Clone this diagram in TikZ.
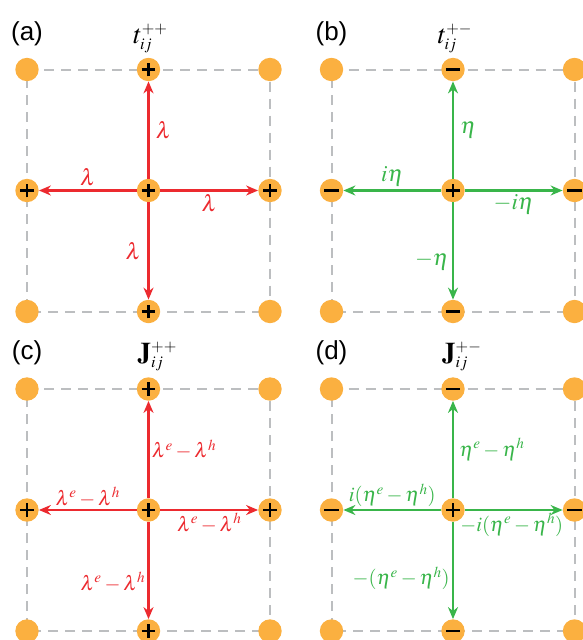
\documentclass[tikz,border=0pt]{standalone}
\usepackage{fontspec}
\usepackage{mathptmx}
\usepackage{tikz}
\usetikzlibrary{arrows.meta,backgrounds}
\newfontfamily\tagfont{Liberation Sans}
\definecolor{siteorange}{HTML}{FBB040}
\definecolor{hopred}{HTML}{EC2A2F}
\definecolor{hopgreen}{HTML}{39B54A}
\definecolor{framegray}{HTML}{BCBEC0}
\newdimen\unitsize
\setlength{\unitsize}{1pt}
\newcommand{\hopsym}[3]{#1_{\scriptscriptstyle #2}^{\scriptscriptstyle #3}}

\begin{document}
\begin{tikzpicture}[x=\unitsize,y=-\unitsize]
\tikzset{site/.style={circle, fill=siteorange, minimum size=23.4pt, inner sep=0pt}}%
\tikzset{plus/.style={site, path picture={
  \draw[line width=2.8pt, black] ([xshift=-6.8pt]path picture bounding box.center) -- ([xshift=6.8pt]path picture bounding box.center);
  \draw[line width=2.8pt, black] ([yshift=-6.8pt]path picture bounding box.center) -- ([yshift=6.8pt]path picture bounding box.center);}}}%
\tikzset{minus/.style={site, path picture={
  \draw[line width=2.8pt, black] ([xshift=-7.2pt]path picture bounding box.center) -- ([xshift=7.2pt]path picture bounding box.center);}}}%
\tikzset{frame/.style={framegray, line width=2pt, dash pattern=on 10pt off 7pt}}%
\tikzset{hop/.style={line width=2.6pt, -{Stealth[length=12pt,width=10pt]}}}%
\tikzset{amp/.style={inner sep=3pt, font=\fontsize{23}{25}\selectfont}}%
\tikzset{ampsmall/.style={inner sep=2pt, font=\fontsize{20.5}{22}\selectfont}}%
\tikzset{title/.style={anchor=base west, inner sep=0pt, font=\fontsize{27}{29}\selectfont}}%
\tikzset{tag/.style={font=\tagfont\fontsize{26}{28}\selectfont}}%
\useasboundingbox (0,0) rectangle (582,640);

% (a) t++
\begin{scope}[shift={(148.5,190.5)}]
\node[plus] (aC) at (0,0) {};
\node[plus] (aN) at (0,-121) {};
\node[plus] (aS) at (0,121) {};
\node[plus] (aW) at (-121.5,0) {};
\node[plus] (aE) at (121.5,0) {};
\node[site] (aNW) at (-121.5,-121) {};
\node[site] (aNE) at (121.5,-121) {};
\node[site] (aSW) at (-121.5,121) {};
\node[site] (aSE) at (121.5,121) {};
\begin{scope}[on background layer]
\draw[frame] (aNW.center) -- (aNE.center) -- (aSE.center) -- (aSW.center) -- cycle;
\end{scope}
\draw[hop, hopred] (aC) -- (aN) node[amp, midway, right, xshift=3pt] {$\lambda$};
\draw[hop, hopred] (aC) -- (aW) node[amp, midway, above] {$\lambda$};
\draw[hop, hopred] (aC) -- (aE) node[amp, midway, below] {$\lambda$};
\draw[hop, hopred] (aC) -- (aS) node[amp, midway, left, xshift=-3pt] {$\lambda$};
\node[title] (aT) at (-15.5,-147.5) {$\hopsym{t}{ij}{++}$};
\node[tag] (aL) at (-121.5,-157) {(a)};
\end{scope}

% (b) t+-
\begin{scope}[shift={(453,190.5)}]
\node[plus] (bC) at (0,0) {};
\node[minus] (bN) at (0,-121) {};
\node[minus] (bS) at (0,121) {};
\node[minus] (bW) at (-121.5,0) {};
\node[minus] (bE) at (121.5,0) {};
\node[site] (bNW) at (-121.5,-121) {};
\node[site] (bNE) at (121.5,-121) {};
\node[site] (bSW) at (-121.5,121) {};
\node[site] (bSE) at (121.5,121) {};
\begin{scope}[on background layer]
\draw[frame] (bNW.center) -- (bNE.center) -- (bSE.center) -- (bSW.center) -- cycle;
\end{scope}
\draw[hop, hopgreen] (bC) -- (bN) node[amp, midway, right, xshift=3pt] {$\eta$};
\draw[hop, hopgreen] (bC) -- (bW) node[amp, midway, above] {$i\eta$};
\draw[hop, hopgreen] (bC) -- (bE) node[amp, midway, below] {$-i\eta$};
\draw[hop, hopgreen] (bC) -- (bS) node[amp, pos=0.6, left] {$-\eta$};
\node[title] (bT) at (-15.5,-147.5) {$\hopsym{t}{ij}{+-}$};
\node[tag] (bL) at (-121.5,-157) {(b)};
\end{scope}

% (c) J++
\begin{scope}[shift={(148.5,510)}]
\node[plus] (cC) at (0,0) {};
\node[plus] (cN) at (0,-121) {};
\node[plus] (cS) at (0,121) {};
\node[plus] (cW) at (-121.5,0) {};
\node[plus] (cE) at (121.5,0) {};
\node[site] (cNW) at (-121.5,-121) {};
\node[site] (cNE) at (121.5,-121) {};
\node[site] (cSW) at (-121.5,121) {};
\node[site] (cSE) at (121.5,121) {};
\begin{scope}[on background layer]
\draw[frame] (cNW.center) -- (cNE.center) -- (cSE.center) -- (cSW.center) -- cycle;
\end{scope}
\draw[hop, hopred] (cC) -- (cN) node[ampsmall, midway, right] {$\lambda^e-\lambda^h$};
\draw[hop, hopred] (cC) -- (cW) node[ampsmall, midway, above] {$\lambda^e-\lambda^h$};
\draw[hop, hopred] (cC) -- (cE) node[ampsmall, midway, below] {$\lambda^e-\lambda^h$};
\draw[hop, hopred] (cC) -- (cS) node[ampsmall, pos=0.62, left] {$\lambda^e-\lambda^h$};
\node[title] (cT) at (-11,-149) {$\hopsym{\mathbf{J}}{ij}{++}$};
\node[tag] (cL) at (-121.5,-157) {(c)};
\end{scope}

% (d) J+-
\begin{scope}[shift={(453,510)}]
\node[plus] (dC) at (0,0) {};
\node[minus] (dN) at (0,-121) {};
\node[minus] (dS) at (0,121) {};
\node[minus] (dW) at (-121.5,0) {};
\node[minus] (dE) at (121.5,0) {};
\node[site] (dNW) at (-121.5,-121) {};
\node[site] (dNE) at (121.5,-121) {};
\node[site] (dSW) at (-121.5,121) {};
\node[site] (dSE) at (121.5,121) {};
\begin{scope}[on background layer]
\draw[frame] (dNW.center) -- (dNE.center) -- (dSE.center) -- (dSW.center) -- cycle;
\end{scope}
\draw[hop, hopgreen] (dC) -- (dN) node[ampsmall, midway, right, xshift=3pt] {$\eta^e-\eta^h$};
\draw[hop, hopgreen] (dC) -- (dW) node[ampsmall, midway, above] {$i(\eta^e-\eta^h)$};
\draw[hop, hopgreen] (dC) -- (dE) node[ampsmall, midway, below, xshift=-2pt] {$-i(\eta^e-\eta^h)$};
\draw[hop, hopgreen] (dC) -- (dS) node[ampsmall, pos=0.58, left] {$-(\eta^e-\eta^h)$};
\node[title] (dT) at (-11,-149) {$\hopsym{\mathbf{J}}{ij}{+-}$};
\node[tag] (dL) at (-121.5,-157) {(d)};
\end{scope}
\end{tikzpicture}
\end{document}
